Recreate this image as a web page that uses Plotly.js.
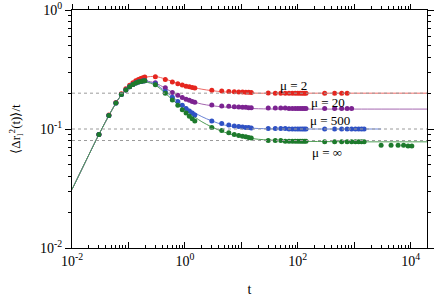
<!DOCTYPE html>
<html><head><meta charset="utf-8">
<script src="https://cdn.plot.ly/plotly-3.0.1.min.js"></script>
<style>html,body{margin:0;padding:0;background:#fff}#plot{width:436px;height:299px}</style>
</head><body><div id="plot"></div>
<script>
// curve (model) times and values
const curveT = [0.01,0.02,0.03,0.05,0.07,0.1,0.15,0.2,0.3,0.45,0.7,1,1.5,2,3,5,10,20,50,100,1000,3000,20000];
const curveMu2   = [0.031,0.061,0.09,0.142,0.185,0.225,0.258,0.272,0.276,0.263,0.244,0.232,0.222,0.216,0.21,0.205,0.202,0.2,0.2,0.2,0.2,0.2,0.2];
const curveMu20  = [0.031,0.061,0.09,0.142,0.185,0.222,0.248,0.253,0.243,0.22,0.195,0.18,0.168,0.162,0.157,0.153,0.15,0.148,0.147,0.147,0.147,0.147,0.147];
const curveMu500 = [0.031,0.061,0.09,0.142,0.185,0.222,0.247,0.25,0.238,0.207,0.176,0.155,0.137,0.127,0.117,0.108,0.103,0.101,0.1,0.1,0.1,0.1,null];
const curveMuInf = [0.031,0.061,0.09,0.142,0.185,0.222,0.246,0.248,0.233,0.2,0.165,0.145,0.126,0.115,0.104,0.094,0.086,0.082,0.08,0.079,0.078,0.078,0.078];

// simulation data points
const tEarly = [0.03,0.045,0.06,0.075,0.09,0.105,0.12,0.135,0.15,0.165,0.18,0.195];
const tMid   = [0.3,0.45,0.6,0.75,0.9,1.05,1.2,1.35,1.5];
const tLate1 = [3,4.5,6,7.5,9,10.5,12,13.5,15];
const tLate2 = [30,40,50,60,70,80,90,100,110,120,130,140];
const tLastMu2   = [300,450,600,750];
const tLastMu20  = [300,450,600,750,900];
const tLastMu500 = [300,450,600,750,900,1050,1200,1350,1500];
const tLastMuInf = [300,450,600,750,900,1050,1200,1350,1500,3000,4500,6000,7500,9000,10500];

const earlyCommon = [0.09,0.13,0.165,0.195,0.213,0.226,0.236,0.243,0.248,0.251,0.253,0.254];
const earlyMu2    = [0.09,0.131,0.167,0.198,0.218,0.233,0.245,0.254,0.261,0.266,0.27,0.273];

const ptsMu2 = {
  mid: [0.275,0.26,0.248,0.24,0.234,0.229,0.226,0.223,0.221],
  l1:  [0.212,0.209,0.207,0.206,0.205,0.205,0.204,0.204,0.203],
  l2:  [0.201,0.2,0.2,0.2,0.2,0.2,0.2,0.2,0.2,0.2,0.2,0.2],
  last:[0.2,0.2,0.2,0.2]
};
const ptsMu20 = {
  mid: [0.245,0.222,0.203,0.192,0.184,0.178,0.174,0.17,0.168],
  l1:  [0.159,0.156,0.155,0.154,0.153,0.152,0.152,0.151,0.151],
  l2:  [0.15,0.15,0.15,0.15,0.149,0.149,0.149,0.149,0.149,0.149,0.149,0.149],
  last:[0.149,0.149,0.149,0.149,0.149]
};
const ptsMu500 = {
  mid: [0.24,0.207,0.185,0.17,0.158,0.149,0.142,0.136,0.131],
  l1:  [0.117,0.111,0.108,0.106,0.105,0.104,0.103,0.103,0.102],
  l2:  [0.101,0.101,0.101,0.101,0.1,0.1,0.1,0.1,0.1,0.1,0.1,0.1],
  last:[0.1,0.1,0.1,0.1,0.1,0.1,0.1,0.1,0.1]
};
const ptsMuInf = {
  mid: [0.235,0.2,0.175,0.158,0.145,0.136,0.128,0.122,0.117],
  l1:  [0.103,0.097,0.093,0.09,0.088,0.087,0.086,0.085,0.084],
  l2:  [0.08,0.08,0.08,0.079,0.079,0.079,0.079,0.079,0.079,0.079,0.079,0.079],
  last:[0.078,0.078,0.078,0.078,0.078,0.078,0.078,0.078,0.078,0.073,0.073,0.073,0.073,0.072,0.072]
};

const plateaus = [0.2,0.1,0.08];
const plateauT = [0.01,20000];

const labels = ['μ = 2','μ = 20','μ = 500','μ = ∞'];
const labelT = [85,343,372,330];
const labelY = [0.234,0.166,0.119,0.064];

const lineColors   = ['#ef6a66','#a466b0','#6a84d6','#4f9d55'];
const markerColors = ['#e5261f','#7c2391','#2f52c4','#1d7a2c'];

const series = [
  {curve: curveMu2,   pts: ptsMu2,   early: earlyMu2,    last: tLastMu2},
  {curve: curveMu20,  pts: ptsMu20,  early: earlyCommon, last: tLastMu20},
  {curve: curveMu500, pts: ptsMu500, early: earlyCommon, last: tLastMu500},
  {curve: curveMuInf, pts: ptsMuInf, early: earlyCommon, last: tLastMuInf}
];

const traces = [];
// reference plateau lines: first on top axis, others on the odd-decade tick axis (same ranges)
plateaus.forEach((v, i) => {
  traces.push({x: plateauT, y: [v, v], xaxis: i === 0 ? 'x2' : 'x3', mode: 'lines',
    line: {color: '#9a9a9a', width: 1, dash: 'dot'}, hoverinfo: 'skip', showlegend: false});
});
series.forEach((s, i) => {
  traces.push({x: curveT, y: s.curve, mode: 'lines', line: {color: lineColors[i], width: 1, shape: 'spline'},
    connectgaps: false, showlegend: false});
});
series.forEach((s, i) => {
  traces.push({
    x: [].concat(tEarly, tMid, tLate1, tLate2, s.last),
    y: [].concat(s.early, s.pts.mid, s.pts.l1, s.pts.l2, s.pts.last),
    mode: 'markers', marker: {color: markerColors[i], size: 5}, showlegend: false});
});

const xMinor = [], yMinor = [];
for (let e = -2; e <= 4; e++) for (let k = 2; k <= 9; k++) xMinor.push(k * Math.pow(10, e));
for (let e = -2; e <= -1; e++) for (let k = 2; k <= 9; k++) yMinor.push(k * Math.pow(10, e));

const serif = 'Liberation Serif, Times New Roman, serif';
const xr = [-2, 4.29];

const layout = {
  width: 436, height: 299,
  margin: {l: 72, r: 9, t: 10, b: 51},
  paper_bgcolor: '#fff', plot_bgcolor: '#fff',
  font: {family: serif, size: 13, color: '#000'},
  showlegend: false,
  xaxis: {
    type: 'log', range: xr, showgrid: false, zeroline: false,
    showline: true, linecolor: '#000', linewidth: 1,
    ticks: 'inside', ticklen: 6, tickcolor: '#000',
    tickvals: [0.01,1,100,10000],
    ticktext: ['10<sup>-2</sup>','10<sup>0</sup>','10<sup>2</sup>','10<sup>4</sup>'],
    minor: {tickvals: xMinor, ticklen: 3, ticks: 'inside', tickcolor: '#000', showgrid: false},
    tickfont: {family: serif, size: 14},
    title: {text: 't', font: {family: serif, size: 14}, standoff: 16}
  },
  xaxis3: {
    type: 'log', range: xr, overlaying: 'x', side: 'bottom', showgrid: false, zeroline: false,
    showline: false, ticks: 'inside', ticklen: 6, tickcolor: '#000',
    tickvals: [0.1,10,1000], showticklabels: false
  },
  xaxis2: {
    type: 'log', range: xr, overlaying: 'x', side: 'top', showgrid: false, zeroline: false,
    showline: true, linecolor: '#000', linewidth: 1,
    ticks: 'outside', ticklen: 5, tickcolor: '#000',
    tickvals: [0.01,0.1,1,10,100,1000,10000], showticklabels: false,
    minor: {tickvals: xMinor, ticklen: 3, ticks: 'outside', tickcolor: '#000', showgrid: false}
  },
  yaxis: {
    type: 'log', range: [-2, 0], showgrid: false, zeroline: false,
    showline: true, linecolor: '#000', linewidth: 1, mirror: 'ticks',
    ticks: 'outside', ticklen: 6, tickcolor: '#000',
    tickvals: [0.01, 0.1, 1],
    ticktext: ['10<sup>-2</sup>','10<sup>-1</sup>','10<sup>0</sup>'],
    minor: {tickvals: yMinor, ticklen: 3, ticks: 'outside', tickcolor: '#000', showgrid: false},
    tickfont: {family: serif, size: 14},
    title: {text: '⟨Δr<sub>l</sub><sup>2</sup>(t)⟩/t', font: {family: serif, size: 13}, standoff: 16}
  },
  annotations: labels.map((txt, i) => ({
    x: Math.log10(labelT[i]), y: Math.log10(labelY[i]), xref: 'x', yref: 'y',
    text: txt, showarrow: false, font: {family: serif, size: 13, color: '#000'}
  }))
};

Plotly.newPlot('plot', traces, layout, {displayModeBar: false, staticPlot: true});
</script></body></html>
